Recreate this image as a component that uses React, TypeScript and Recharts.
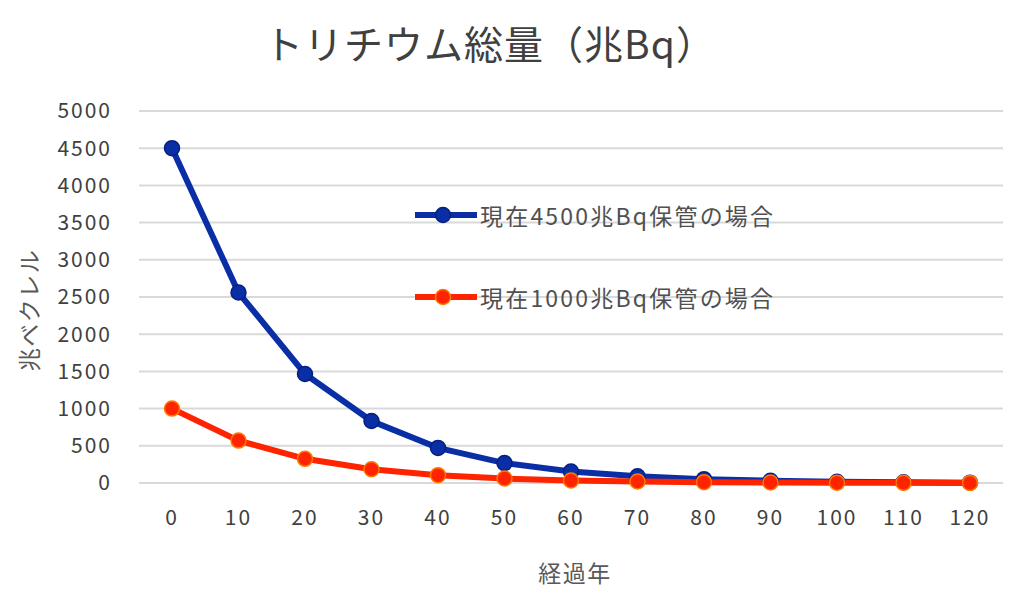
import React from 'react';
import { LineChart, Line, XAxis, YAxis, CartesianGrid, Legend } from 'recharts';

const years = [0, 10, 20, 30, 40, 50, 60, 70, 80, 90, 100, 110, 120];
const blueValues = [4500, 2560, 1465, 833, 472, 268, 155, 90, 52, 30, 17, 10, 5];
const redValues = [1000, 570, 325, 185, 105, 60, 34, 20, 11, 7, 4, 2, 1];
const yTicks = [0, 500, 1000, 1500, 2000, 2500, 3000, 3500, 4000, 4500, 5000];
const blueName = '現在4500兆Bq保管の場合';
const redName = '現在1000兆Bq保管の場合';
const titleText = 'トリチウム総量（兆Bq）';
const xLabel = '経過年';
const yLabel = '兆ベクレル';

const data = years.map((y, i) => ({ year: String(y), blue: blueValues[i], red: redValues[i] }));

const FONT = '"Noto Sans CJK JP", "Noto Sans", sans-serif';
const TEXT = '#404040';
const BLUE = '#0a2ea6';
const RED = '#ff2400';

const LegendContent = () => {
  const items = [
    { name: blueName, color: BLUE, stroke: '#062080' },
    { name: redName, color: RED, stroke: '#ff7a00' },
  ];
  return (
    <div style={{ fontFamily: FONT }}>
      {items.map((it, i) => (
        <div key={i} style={{ display: 'flex', alignItems: 'center', height: 28, marginBottom: i === 0 ? 54 : 0 }}>
          <svg width={66} height={20}>
            <line x1={2} y1={10} x2={64} y2={10} stroke={it.color} strokeWidth={6} />
            <circle cx={30} cy={10} r={7.5} fill={it.color} stroke={it.stroke} strokeWidth={1.5} />
          </svg>
          <span style={{ fontSize: 23, letterSpacing: 2.2, color: '#505050', marginLeft: 1, whiteSpace: 'nowrap' }}>{it.name}</span>
        </div>
      ))}
    </div>
  );
};

const YLabel = (props: any) => {
  const vb = props.viewBox || {};
  const cx = 28;
  const cy = vb.y + vb.height / 2 + 13;
  return (
    <text x={cx} y={cy} transform={`rotate(-90 ${cx} ${cy})`} textAnchor="middle" dominantBaseline="central"
      fontSize={23} fill="#595959" fontFamily={FONT} letterSpacing={1.5}>
      {yLabel}
    </text>
  );
};

export default function App() {
  return (
    <div style={{ position: 'absolute', left: 0, top: 0, width: 1024, height: 612, background: '#fff' }}>
      <div style={{ position: 'absolute', left: 0, top: 16, width: 980, textAlign: 'center', fontFamily: FONT, fontSize: 39, letterSpacing: 1, color: TEXT, lineHeight: '52px' }}>
        {titleText}
      </div>
      <LineChart width={1024} height={612} data={data} margin={{ top: 111, right: 21, bottom: 0, left: 0 }}>
        <CartesianGrid vertical={false} stroke="#d9d9d9" strokeWidth={2} />
        <XAxis dataKey="year" axisLine={false} tickLine={false} tickSize={0} tickMargin={27}
          padding={{ left: 33, right: 33 }} height={129} interval={0}
          tick={{ fontSize: 21, fill: TEXT, fontFamily: FONT, letterSpacing: 2 }}
          label={{ value: xLabel, position: 'insideBottom', offset: 30, fontSize: 23, fill: '#595959', fontFamily: FONT, letterSpacing: 1.5, dx: 4 }} />
        <YAxis domain={[0, 5000]} ticks={yTicks} axisLine={false} tickLine={false} tickSize={0} tickMargin={27}
          width={139} interval={0}
          tick={{ fontSize: 21, fill: TEXT, fontFamily: FONT, letterSpacing: 2 }}
          label={<YLabel />} />
        <Legend verticalAlign="middle" align="center" layout="vertical" content={<LegendContent />}
          wrapperStyle={{ position: 'absolute', left: 413, top: 201, width: 420 }} />
        <Line type="linear" dataKey="blue" name={blueName} stroke={BLUE} strokeWidth={6}
          dot={{ r: 7.5, fill: BLUE, stroke: '#062080', strokeWidth: 1.5 }} isAnimationActive={false} />
        <Line type="linear" dataKey="red" name={redName} stroke={RED} strokeWidth={6}
          dot={{ r: 7.5, fill: RED, stroke: '#ff7a00', strokeWidth: 1.5 }} isAnimationActive={false} />
      </LineChart>
    </div>
  );
}
